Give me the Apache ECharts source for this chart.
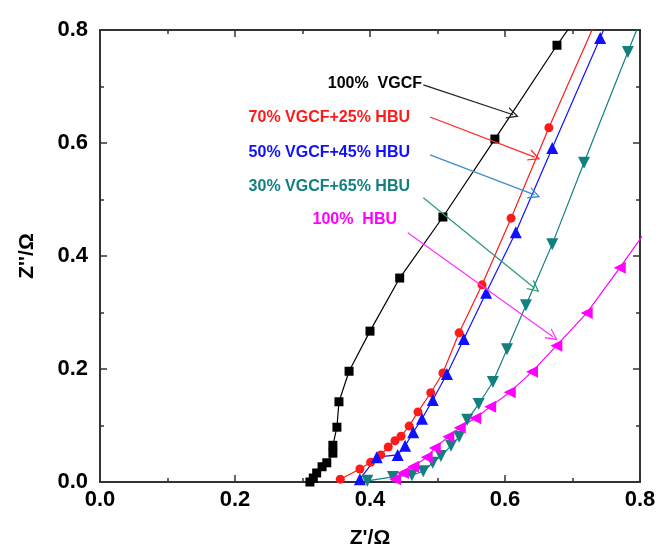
<!DOCTYPE html>
<html>
<head>
<meta charset="utf-8">
<title>Nyquist</title>
<script src="https://cdn.jsdelivr.net/npm/echarts@6/dist/echarts.min.js"></script>
<style>
  html, body { margin: 0; padding: 0; background: #fff; }
  #main { width: 663px; height: 554px; }
</style>
</head>
<body>
<div id="main"></div>
<script>
// 数据 (Z', Z'')
var vgcf100 = [
  [0.311, 0.000], [0.316, 0.007], [0.321, 0.016], [0.329, 0.027], [0.336, 0.034],
  [0.345, 0.051], [0.345, 0.065], [0.351, 0.097], [0.354, 0.142], [0.369, 0.196],
  [0.400, 0.267], [0.444, 0.361], [0.508, 0.469], [0.585, 0.607], [0.677, 0.773],
  [0.740, 0.880]
];
var vgcf70 = [
  [0.356, 0.005], [0.385, 0.023], [0.401, 0.035], [0.416, 0.048], [0.427, 0.062],
  [0.437, 0.073], [0.446, 0.081], [0.458, 0.099], [0.471, 0.124], [0.490, 0.158],
  [0.508, 0.193], [0.532, 0.264], [0.566, 0.349], [0.609, 0.467], [0.665, 0.627],
  [0.740, 0.830]
];
var vgcf50 = [
  [0.385, 0.005], [0.410, 0.044], [0.441, 0.048], [0.452, 0.064], [0.464, 0.088],
  [0.477, 0.112], [0.493, 0.145], [0.514, 0.191], [0.539, 0.253], [0.572, 0.335],
  [0.616, 0.442], [0.670, 0.591], [0.741, 0.786], [0.760, 0.840]
];
var vgcf30 = [
  [0.396, 0.002], [0.434, 0.009], [0.462, 0.012], [0.479, 0.019], [0.493, 0.034],
  [0.505, 0.046], [0.520, 0.064], [0.532, 0.080], [0.544, 0.110], [0.561, 0.138],
  [0.582, 0.177], [0.603, 0.235], [0.631, 0.313], [0.670, 0.421], [0.717, 0.565],
  [0.782, 0.761], [0.805, 0.830]
];
var hbu100 = [
  [0.437, 0.005], [0.449, 0.016], [0.464, 0.027], [0.484, 0.044], [0.496, 0.060],
  [0.516, 0.080], [0.533, 0.096], [0.556, 0.113], [0.578, 0.133], [0.607, 0.159],
  [0.640, 0.195], [0.676, 0.241], [0.721, 0.299], [0.770, 0.379], [0.830, 0.480]
];

// 标注文字和箭头 (起点, 终点)
var labelNames = ['100%  VGCF', '70% VGCF+25% HBU', '50% VGCF+45% HBU', '30% VGCF+65% HBU', '100%  HBU'];
var arrowFrom = [[0.479, 0.703], [0.489, 0.646], [0.489, 0.579], [0.479, 0.503], [0.456, 0.441]];
var arrowTo = [[0.612, 0.650], [0.644, 0.575], [0.644, 0.508], [0.644, 0.343], [0.671, 0.257]];

var colors = ['#000000', '#ff1a1a', '#1010ff', '#138080', '#ff00ff'];
var arrowColors = ['#222222', '#ff2a2a', '#3a8ed0', '#2a9e78', '#ff33ff'];
var textPos = [[422, 84], [410, 118], [410, 153], [410, 187], [397, 220]];

var myChart = echarts.init(document.getElementById('main'));

var axisFont = { fontFamily: 'Liberation Sans', fontWeight: 'bold', fontSize: 22, color: '#000' };
var lineStyleAxis = { color: '#333', width: 2 };

function makeX(pos, show) {
  return {
    type: 'value', position: pos, min: 0, max: 0.8, interval: 0.2,
    name: show ? "Z'/Ω" : '', nameLocation: 'middle', nameGap: 46,
    nameTextStyle: { fontFamily: 'Liberation Sans', fontWeight: 'bold', fontSize: 21, color: '#000' },
    axisLine: { show: true, onZero: false, lineStyle: lineStyleAxis },
    axisTick: { show: true, inside: true, length: 7, lineStyle: { color: '#333', width: 1.5 } },
    minorTick: { show: true, splitNumber: 2, length: 4, lineStyle: { color: '#333', width: 1.5 } },
    axisLabel: show ? Object.assign({ margin: 7, formatter: function (v) { return v.toFixed(1); } }, axisFont) : { show: false },
    splitLine: { show: false }
  };
}
function makeY(pos, show) {
  return {
    type: 'value', position: pos, min: 0, max: 0.8, interval: 0.2,
    name: show ? "Z''/Ω" : '', nameLocation: 'middle', nameGap: 62, nameRotate: 90,
    nameTextStyle: { fontFamily: 'Liberation Sans', fontWeight: 'bold', fontSize: 21, color: '#000' },
    axisLine: { show: true, onZero: false, lineStyle: lineStyleAxis },
    axisTick: { show: true, inside: true, length: 7, lineStyle: { color: '#333', width: 1.5 } },
    minorTick: { show: true, splitNumber: 2, length: 4, lineStyle: { color: '#333', width: 1.5 } },
    axisLabel: show ? Object.assign({ margin: 12, formatter: function (v) { return v.toFixed(1); } }, axisFont) : { show: false },
    splitLine: { show: false }
  };
}

function makeSeries(name, data, color, symbol, size, rotate) {
  return {
    name: name, type: 'line', data: data,
    symbol: symbol, symbolSize: size, symbolRotate: rotate || 0,
    clip: true,
    lineStyle: { color: color, width: 1.2 },
    itemStyle: { color: color },
    z: 3
  };
}

// 箭头
var arrowLines = [];
for (var i = 0; i < arrowFrom.length; i++) {
  arrowLines.push([
    { coord: arrowFrom[i], lineStyle: { color: arrowColors[i], width: 1.3, type: 'solid' } },
    { coord: arrowTo[i] }
  ]);
}

var series = [
  makeSeries('100% VGCF', vgcf100, colors[0], 'rect', 9),
  makeSeries('70% VGCF+25% HBU', vgcf70, colors[1], 'circle', 9),
  makeSeries('50% VGCF+45% HBU', vgcf50, colors[2], 'triangle', 12),
  makeSeries('30% VGCF+65% HBU', vgcf30, colors[3], 'triangle', 12, 180),
  makeSeries('100% HBU', hbu100, colors[4], 'triangle', 12, 90)
];
series[0].markLine = {
  silent: true,
  symbol: ['none', 'path://M0,10 L5,0 L10,10 L8.8,10 L5,2.4 L1.2,10 Z'],
  symbolSize: [12, 12],
  label: { show: false },
  lineStyle: { type: 'solid' },
  data: arrowLines,
  z: 5
};

var texts = [];
for (var j = 0; j < labelNames.length; j++) {
  texts.push({
    type: 'text', x: textPos[j][0], y: textPos[j][1],
    style: {
      text: labelNames[j], fill: colors[j],
      font: 'bold 16px "Liberation Sans"',
      textAlign: 'right', textVerticalAlign: 'middle'
    }
  });
}

var option = {
  animation: false,
  grid: { left: 100, right: 23, top: 30, bottom: 72 },
  xAxis: [makeX('bottom', true), makeX('top', false)],
  yAxis: [makeY('left', true), makeY('right', false)],
  series: series,
  graphic: texts
};
myChart.setOption(option);
</script>
</body>
</html>
